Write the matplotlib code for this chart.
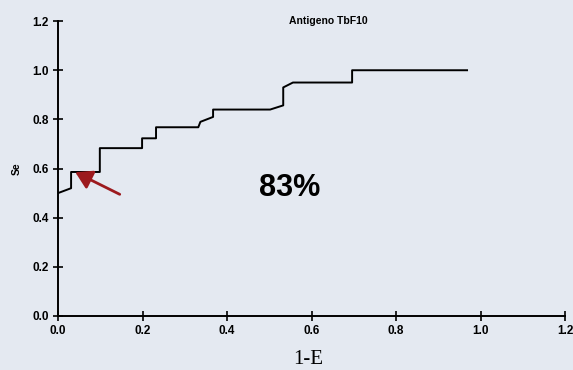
import matplotlib
matplotlib.use("Agg")
import matplotlib.pyplot as plt

# ROC curve (1-E, Se)
fpr = [0.0, 0.031, 0.031, 0.099, 0.099, 0.199, 0.199, 0.232, 0.232, 0.332,
       0.337, 0.367, 0.367, 0.502, 0.533, 0.533, 0.556, 0.696, 0.696, 0.968]
tpr = [0.50, 0.52, 0.586, 0.586, 0.683, 0.683, 0.723, 0.723, 0.768, 0.768,
       0.79, 0.81, 0.84, 0.84, 0.857, 0.93, 0.95, 0.95, 1.0, 1.0]
ticks = [0.0, 0.2, 0.4, 0.6, 0.8, 1.0, 1.2]
tick_labels = ["0.0", "0.2", "0.4", "0.6", "0.8", "1.0", "1.2"]
title = "Antigeno TbF10"
auc_label = "83%"

bg = "#e4e9f1"
fig = plt.figure(figsize=(5.73, 3.70), dpi=100, facecolor=bg)
ax = fig.add_axes([0.1012, 0.146, 0.885, 0.797], facecolor=bg)

ax.plot(fpr, tpr, color="black", lw=1.4)

ax.set_xlim(0, 1.2)
ax.set_ylim(0, 1.2)
ax.set_xticks(ticks)
ax.set_yticks(ticks)
ax.set_xticklabels(tick_labels, fontsize=8.5, fontweight="bold", family="Liberation Sans")
ax.set_yticklabels(tick_labels, fontsize=8.5, fontweight="bold", family="Liberation Sans")
ax.tick_params(direction="inout", length=7, width=1.2, pad=3)

for side in ["top", "right"]:
    ax.spines[side].set_visible(False)
for side in ["left", "bottom"]:
    ax.spines[side].set_linewidth(1.4)

ax.set_xlabel("1-E", fontsize=15, family="Liberation Serif", va="center")
ax.xaxis.set_label_coords(0.493, -0.149)
ax.set_ylabel("Se", fontsize=7.5, fontweight="bold", family="Liberation Sans", labelpad=8)

ax.text(0.64, 1.2, title, fontsize=7.5, fontweight="bold", family="Liberation Sans",
        ha="center", va="center")
ax.text(0.547, 0.52, auc_label, fontsize=22, fontweight="bold", family="Liberation Sans",
        ha="center", va="center")

ax.annotate("", xy=(0.035, 0.59), xytext=(0.152, 0.49),
            arrowprops=dict(arrowstyle="-|>,head_length=1.0,head_width=0.6",
                            color="#9c1a1e", lw=2))

fig.savefig("out.png", dpi=100, facecolor=bg)
